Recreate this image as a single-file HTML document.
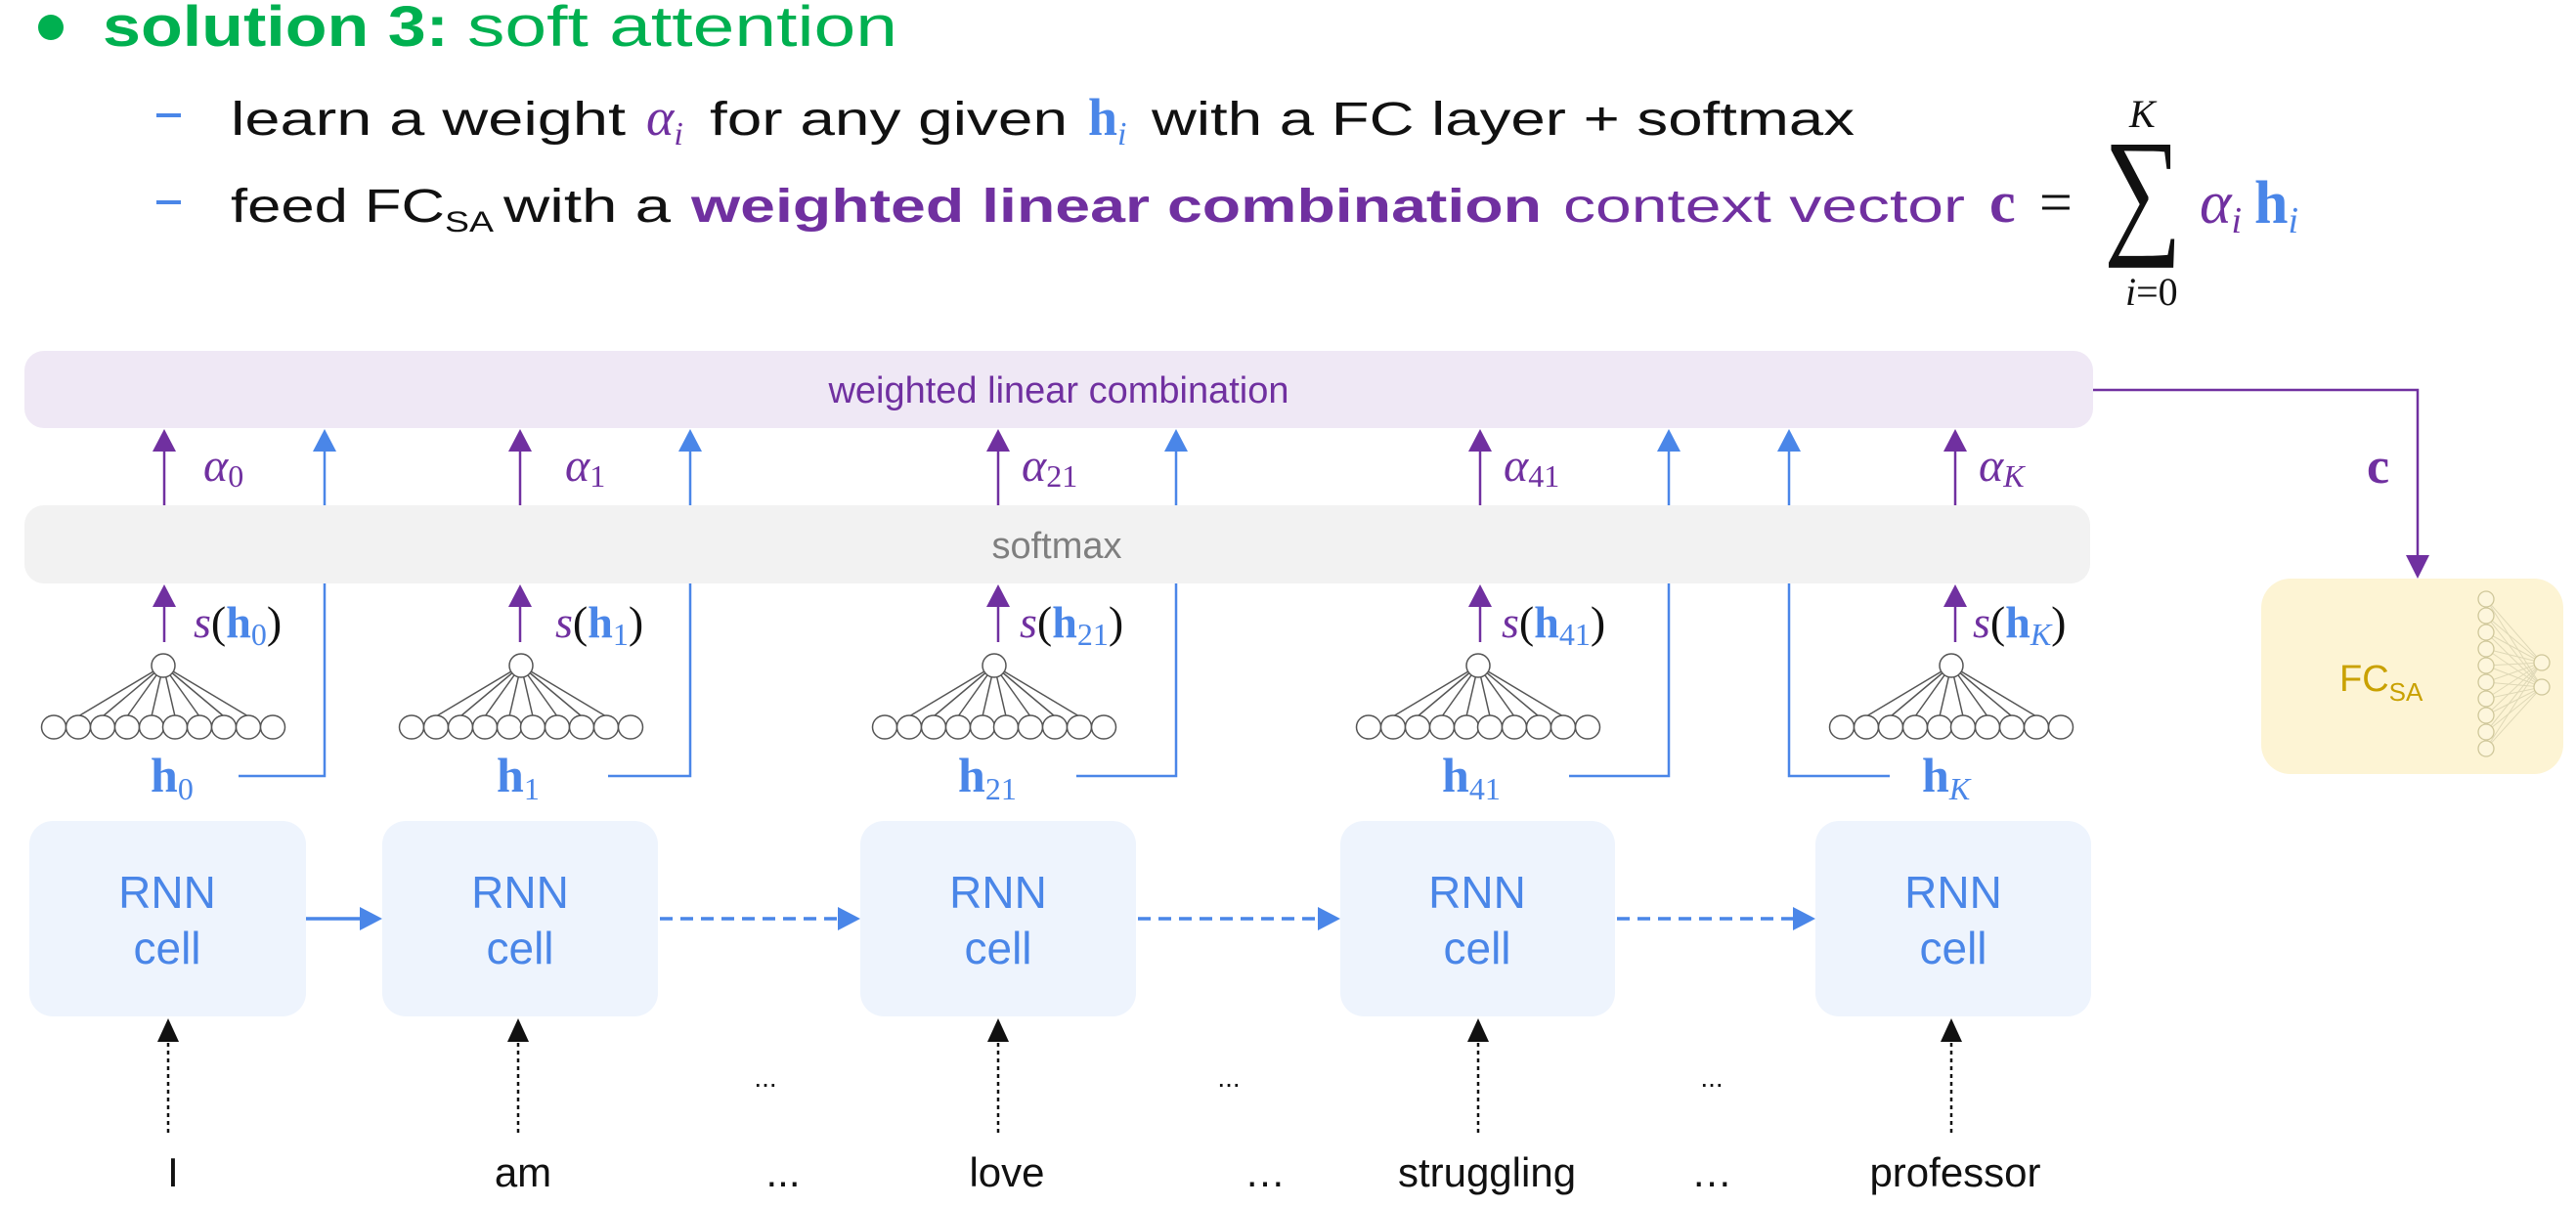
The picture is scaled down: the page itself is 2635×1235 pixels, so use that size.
<!DOCTYPE html>
<html><head><meta charset="utf-8"><style>
html,body{margin:0;padding:0;background:#fff;}
svg{display:block;}
.s{font-family:"Liberation Sans",sans-serif;}
.m{font-family:"Liberation Serif","DejaVu Serif",serif;}
</style></head><body>
<svg width="2635" height="1235" viewBox="0 0 2635 1235" xmlns="http://www.w3.org/2000/svg">
<!-- Title -->
<circle cx="52" cy="28" r="13" fill="#00b050"/>
<text class="s" x="105" y="47" font-size="58" font-weight="bold" fill="#00b050" textLength="354" lengthAdjust="spacingAndGlyphs">solution 3:</text>
<text class="s" x="478" y="47" font-size="58" fill="#00b050" textLength="440" lengthAdjust="spacingAndGlyphs">soft attention</text>
<!-- Line 1 -->
<rect x="160" y="116" width="25" height="4" fill="#4a86e8"/>
<text class="s" x="236" y="138" font-size="48" fill="#111" textLength="404" lengthAdjust="spacingAndGlyphs">learn a weight</text>
<text class="m" x="661" y="138" font-size="54" font-style="italic" fill="#7030a0">α<tspan font-size="34" dy="10">i</tspan></text>
<text class="s" x="726" y="138" font-size="48" fill="#111" textLength="366" lengthAdjust="spacingAndGlyphs">for any given</text>
<text class="m" x="1113" y="138" font-size="54" font-weight="bold" fill="#4a86e8">h<tspan font-size="34" font-weight="normal" font-style="italic" dy="10">i</tspan></text>
<text class="s" x="1178" y="138" font-size="48" fill="#111" textLength="719" lengthAdjust="spacingAndGlyphs">with a FC layer + softmax</text>
<!-- Line 2 -->
<rect x="160" y="205" width="25" height="4" fill="#4a86e8"/>
<text class="s" x="236" y="227" font-size="48" fill="#111" textLength="219" lengthAdjust="spacingAndGlyphs">feed FC</text>
<text class="s" x="455" y="237" font-size="30" fill="#111" textLength="50" lengthAdjust="spacingAndGlyphs">SA</text>
<text class="s" x="515" y="227" font-size="48" fill="#111" textLength="171" lengthAdjust="spacingAndGlyphs">with a</text>
<text class="s" x="707" y="227" font-size="48" font-weight="bold" fill="#7030a0" textLength="870" lengthAdjust="spacingAndGlyphs">weighted linear combination</text>
<text class="s" x="1599" y="227" font-size="48" fill="#7030a0" textLength="411" lengthAdjust="spacingAndGlyphs">context vector</text>
<text class="m" x="2035" y="227" font-size="60" font-weight="bold" fill="#7030a0">c</text>
<text class="m" x="2086" y="227" font-size="60" fill="#111">=</text>
<text class="m" x="2152" y="243" font-size="145" fill="#111" textLength="80" lengthAdjust="spacingAndGlyphs">∑</text>
<text class="m" x="2178" y="130" font-size="40" font-style="italic" fill="#111">K</text>
<text class="m" x="2174" y="312" font-size="40" fill="#111"><tspan font-style="italic">i</tspan>=0</text>
<text class="m" x="2250" y="228" font-size="62" font-style="italic" fill="#7030a0">α<tspan font-size="38" dy="10">i</tspan></text>
<text class="m" x="2306" y="228" font-size="62" font-weight="bold" fill="#4a86e8">h<tspan font-size="38" font-weight="normal" font-style="italic" dy="10">i</tspan></text>

<!-- Blue L connectors -->
<g stroke="#4a86e8" stroke-width="2.5" fill="none">
<polyline points="244,794 332,794 332,458"/>
<polyline points="622,794 706,794 706,458"/>
<polyline points="1101,794 1203,794 1203,458"/>
<polyline points="1605,794 1707,794 1707,458"/>
<polyline points="1933,794 1830,794 1830,458"/>
</g>
<g fill="#4a86e8">
<polygon points="320,462 344,462 332,439"/>
<polygon points="694,462 718,462 706,439"/>
<polygon points="1191,462 1215,462 1203,439"/>
<polygon points="1695,462 1719,462 1707,439"/>
<polygon points="1818,462 1842,462 1830,439"/>
</g>

<!-- Boxes -->
<rect x="25" y="359" width="2116" height="79" rx="20" fill="#efe8f5"/>
<text class="s" x="1083" y="412" font-size="38" fill="#7030a0" text-anchor="middle">weighted linear combination</text>
<rect x="25" y="517" width="2113" height="80" rx="20" fill="#f2f2f2"/>
<text class="s" x="1081" y="571" font-size="38" fill="#7f7f7f" text-anchor="middle">softmax</text>

<!-- Purple arrows -->
<g stroke="#7030a0" stroke-width="2.5">
<line x1="168" y1="517" x2="168" y2="458"/><line x1="532" y1="517" x2="532" y2="458"/><line x1="1021" y1="517" x2="1021" y2="458"/><line x1="1514" y1="517" x2="1514" y2="458"/><line x1="2000" y1="517" x2="2000" y2="458"/>
<line x1="168" y1="657" x2="168" y2="615"/><line x1="532" y1="657" x2="532" y2="615"/><line x1="1021" y1="657" x2="1021" y2="615"/><line x1="1514" y1="657" x2="1514" y2="615"/><line x1="2000" y1="657" x2="2000" y2="615"/>
</g>
<g fill="#7030a0">
<polygon points="156,462 180,462 168,439"/><polygon points="520,462 544,462 532,439"/><polygon points="1009,462 1033,462 1021,439"/><polygon points="1502,462 1526,462 1514,439"/><polygon points="1988,462 2012,462 2000,439"/>
<polygon points="156,621 180,621 168,598"/><polygon points="520,621 544,621 532,598"/><polygon points="1009,621 1033,621 1021,598"/><polygon points="1502,621 1526,621 1514,598"/><polygon points="1988,621 2012,621 2000,598"/>
</g>
<!-- alpha labels -->
<g class="m" font-size="48" font-style="italic" fill="#7030a0">
<text x="208" y="492">α<tspan font-style="normal" font-size="32" dy="6">0</tspan></text>
<text x="578" y="492">α<tspan font-style="normal" font-size="32" dy="6">1</tspan></text>
<text x="1045" y="492">α<tspan font-style="normal" font-size="32" dy="6">21</tspan></text>
<text x="1538" y="492">α<tspan font-style="normal" font-size="32" dy="6">41</tspan></text>
<text x="2024" y="492">α<tspan font-size="32" dy="6">K</tspan></text>
</g>
<!-- s(h) labels -->
<g class="m" font-size="46">
<text x="198" y="652"><tspan font-style="italic" fill="#7030a0">s</tspan><tspan fill="#111">(</tspan><tspan font-weight="bold" fill="#4a86e8">h</tspan><tspan font-size="32" fill="#4a86e8" dy="8">0</tspan><tspan fill="#111" dy="-8">)</tspan></text>
<text x="568" y="652"><tspan font-style="italic" fill="#7030a0">s</tspan><tspan fill="#111">(</tspan><tspan font-weight="bold" fill="#4a86e8">h</tspan><tspan font-size="32" fill="#4a86e8" dy="8">1</tspan><tspan fill="#111" dy="-8">)</tspan></text>
<text x="1043" y="652"><tspan font-style="italic" fill="#7030a0">s</tspan><tspan fill="#111">(</tspan><tspan font-weight="bold" fill="#4a86e8">h</tspan><tspan font-size="32" fill="#4a86e8" dy="8">21</tspan><tspan fill="#111" dy="-8">)</tspan></text>
<text x="1536" y="652"><tspan font-style="italic" fill="#7030a0">s</tspan><tspan fill="#111">(</tspan><tspan font-weight="bold" fill="#4a86e8">h</tspan><tspan font-size="32" fill="#4a86e8" dy="8">41</tspan><tspan fill="#111" dy="-8">)</tspan></text>
<text x="2018" y="652"><tspan font-style="italic" fill="#7030a0">s</tspan><tspan fill="#111">(</tspan><tspan font-weight="bold" fill="#4a86e8">h</tspan><tspan font-size="32" font-style="italic" fill="#4a86e8" dy="8">K</tspan><tspan fill="#111" dy="-8">)</tspan></text>
</g>
<!-- h labels -->
<g class="m" font-size="50" font-weight="bold" fill="#4a86e8">
<text x="154" y="810">h<tspan font-weight="normal" font-size="32" dy="8">0</tspan></text>
<text x="508" y="810">h<tspan font-weight="normal" font-size="32" dy="8">1</tspan></text>
<text x="980" y="810">h<tspan font-weight="normal" font-size="32" dy="8">21</tspan></text>
<text x="1475" y="810">h<tspan font-weight="normal" font-size="32" dy="8">41</tspan></text>
<text x="1966" y="810">h<tspan font-weight="normal" font-style="italic" font-size="32" dy="8">K</tspan></text>
</g>

<!-- Neurons -->
<defs>
<g id="nn" stroke="#555" stroke-width="1.5" fill="#fff">
<line x1="0" y1="0" x2="-87" y2="52"/><line x1="0" y1="0" x2="-62" y2="52"/><line x1="0" y1="0" x2="-37" y2="52"/><line x1="0" y1="0" x2="-12" y2="52"/><line x1="0" y1="0" x2="12" y2="52"/><line x1="0" y1="0" x2="37" y2="52"/><line x1="0" y1="0" x2="62" y2="52"/><line x1="0" y1="0" x2="87" y2="52"/>
<circle cx="0" cy="0" r="12"/>
<ellipse cx="-112" cy="63" rx="12.5" ry="12"/><ellipse cx="-87" cy="63" rx="12.5" ry="12"/><ellipse cx="-62" cy="63" rx="12.5" ry="12"/><ellipse cx="-37" cy="63" rx="12.5" ry="12"/><ellipse cx="-12" cy="63" rx="12.5" ry="12"/><ellipse cx="12" cy="63" rx="12.5" ry="12"/><ellipse cx="37" cy="63" rx="12.5" ry="12"/><ellipse cx="62" cy="63" rx="12.5" ry="12"/><ellipse cx="87" cy="63" rx="12.5" ry="12"/><ellipse cx="112" cy="63" rx="12.5" ry="12"/>
</g>
</defs>
<use href="#nn" x="167" y="681"/><use href="#nn" x="533" y="681"/><use href="#nn" x="1017" y="681"/><use href="#nn" x="1512" y="681"/><use href="#nn" x="1996" y="681"/>

<!-- RNN cells -->
<g fill="#eef4fd">
<rect x="30" y="840" width="283" height="200" rx="24"/>
<rect x="391" y="840" width="282" height="200" rx="24"/>
<rect x="880" y="840" width="282" height="200" rx="24"/>
<rect x="1371" y="840" width="281" height="200" rx="24"/>
<rect x="1857" y="840" width="282" height="200" rx="24"/>
</g>
<g class="s" font-size="46" fill="#4a86e8" text-anchor="middle">
<text x="171" y="929">RNN</text><text x="171" y="986">cell</text>
<text x="532" y="929">RNN</text><text x="532" y="986">cell</text>
<text x="1021" y="929">RNN</text><text x="1021" y="986">cell</text>
<text x="1511" y="929">RNN</text><text x="1511" y="986">cell</text>
<text x="1998" y="929">RNN</text><text x="1998" y="986">cell</text>
</g>
<!-- horizontal arrows -->
<g stroke="#4a86e8" stroke-width="3.5">
<line x1="313" y1="940" x2="372" y2="940"/>
<line x1="675" y1="940" x2="860" y2="940" stroke-dasharray="13,8"/>
<line x1="1164" y1="940" x2="1352" y2="940" stroke-dasharray="13,8"/>
<line x1="1654" y1="940" x2="1838" y2="940" stroke-dasharray="13,8"/>
</g>
<g fill="#4a86e8">
<polygon points="368,928 391,940 368,952"/><polygon points="857,928 880,940 857,952"/><polygon points="1348,928 1371,940 1348,952"/><polygon points="1834,928 1857,940 1834,952"/>
</g>
<!-- input arrows -->
<g stroke="#111" stroke-width="2.5" stroke-dasharray="4,4">
<line x1="172" y1="1159" x2="172" y2="1062"/><line x1="530" y1="1159" x2="530" y2="1062"/><line x1="1021" y1="1159" x2="1021" y2="1062"/><line x1="1512" y1="1159" x2="1512" y2="1062"/><line x1="1996" y1="1159" x2="1996" y2="1062"/>
</g>
<g fill="#111">
<polygon points="161,1066 183,1066 172,1042"/><polygon points="519,1066 541,1066 530,1042"/><polygon points="1010,1066 1032,1066 1021,1042"/><polygon points="1501,1066 1523,1066 1512,1042"/><polygon points="1985,1066 2007,1066 1996,1042"/>
</g>
<g class="s" font-size="28" fill="#111" text-anchor="middle">
<text x="783" y="1112">...</text><text x="1257" y="1112">...</text><text x="1751" y="1112">...</text>
</g>
<g class="s" font-size="42" fill="#111" text-anchor="middle">
<text x="177" y="1214">I</text><text x="535" y="1214">am</text><text x="801" y="1214">...</text><text x="1030" y="1214">love</text><text x="1294" y="1214">…</text><text x="1521" y="1214">struggling</text><text x="1751" y="1214">…</text><text x="2000" y="1214">professor</text>
</g>

<!-- context connector -->
<polyline points="2141,399 2473,399 2473,570" stroke="#7030a0" stroke-width="2.5" fill="none"/>
<polygon points="2461,568 2485,568 2473,592" fill="#7030a0"/>
<text class="m" x="2421" y="494" font-size="52" font-weight="bold" fill="#7030a0">c</text>

<!-- FC box -->
<rect x="2313" y="592" width="309" height="200" rx="30" fill="#fdf4d4"/>
<g stroke="#d8d2b0" stroke-width="1" opacity="0.8">
<line x1="2543" y1="613" x2="2600" y2="678"/><line x1="2543" y1="630" x2="2600" y2="678"/><line x1="2543" y1="647" x2="2600" y2="678"/><line x1="2543" y1="664" x2="2600" y2="678"/><line x1="2543" y1="681" x2="2600" y2="678"/><line x1="2543" y1="698" x2="2600" y2="678"/><line x1="2543" y1="715" x2="2600" y2="678"/><line x1="2543" y1="732" x2="2600" y2="678"/><line x1="2543" y1="749" x2="2600" y2="678"/><line x1="2543" y1="766" x2="2600" y2="678"/>
<line x1="2543" y1="613" x2="2600" y2="703"/><line x1="2543" y1="630" x2="2600" y2="703"/><line x1="2543" y1="647" x2="2600" y2="703"/><line x1="2543" y1="664" x2="2600" y2="703"/><line x1="2543" y1="681" x2="2600" y2="703"/><line x1="2543" y1="698" x2="2600" y2="703"/><line x1="2543" y1="715" x2="2600" y2="703"/><line x1="2543" y1="732" x2="2600" y2="703"/><line x1="2543" y1="749" x2="2600" y2="703"/><line x1="2543" y1="766" x2="2600" y2="703"/>
</g>
<g stroke="#cfc79a" stroke-width="1.3" fill="#fdf6dc">
<circle cx="2543" cy="613" r="8"/><circle cx="2543" cy="630" r="8"/><circle cx="2543" cy="647" r="8"/><circle cx="2543" cy="664" r="8"/><circle cx="2543" cy="681" r="8"/><circle cx="2543" cy="698" r="8"/><circle cx="2543" cy="715" r="8"/><circle cx="2543" cy="732" r="8"/><circle cx="2543" cy="749" r="8"/><circle cx="2543" cy="766" r="8"/>
<circle cx="2600" cy="678" r="8"/><circle cx="2600" cy="703" r="8"/>
</g>
<text class="s" x="2393" y="707" font-size="38" fill="#c9a100">FC<tspan font-size="26" dy="10">SA</tspan></text>
</svg>
</body></html>
